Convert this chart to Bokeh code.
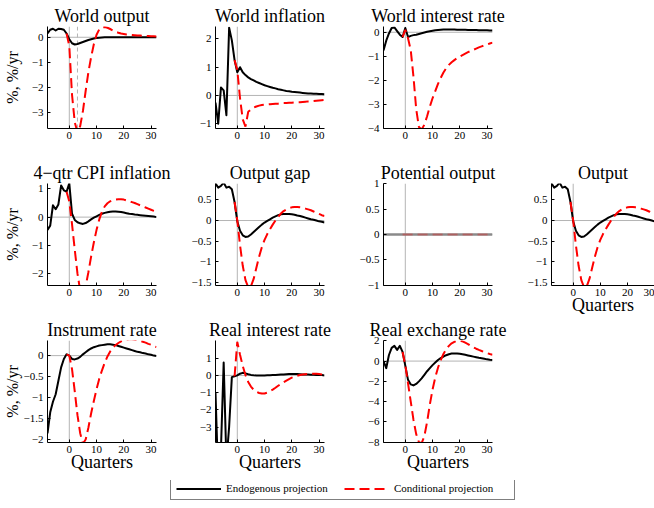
from bokeh.plotting import figure
from bokeh.layouts import row, column, Spacer
from bokeh.models import Range1d, FixedTicker, Span, Legend, LegendItem
from bokeh.embed import file_html
from bokeh.resources import INLINE

# ---------------- data ----------------
quarters_endo = list(range(-8, 33))   # endogenous projection horizon
quarters_cond = list(range(-1, 33))   # conditional projection horizon
x_ticks = [0, 10, 20, 30]

world_output_endo = [0.15, 0.30, 0.34, 0.27, 0.34, 0.33, 0.30, 0.15,
                     -0.08, -0.24, -0.29, -0.27, -0.23, -0.19, -0.15, -0.11, -0.08, -0.05,
                     -0.03, -0.02, -0.01, 0.0, 0.0, 0.0, 0.0, 0.0, 0.0, 0.0,
                     0.0, 0.0, 0.0, 0.0, 0.0, 0.0, 0.0, 0.0, 0.0, 0.0,
                     0.0, 0.0, 0.0]
world_output_cond = [0.15,
                     -0.35, -2.3, -3.4, -3.8, -3.55, -2.95, -2.15, -1.4, -0.8, -0.28,
                     0.1, 0.32, 0.4, 0.41, 0.38, 0.33, 0.27, 0.22, 0.18, 0.15,
                     0.13, 0.11, 0.10, 0.09, 0.08, 0.07, 0.07, 0.06, 0.05, 0.05,
                     0.04, 0.04, 0.03]

world_inflation_endo = [-0.25, -1.0, 0.28, 0.18, -0.7, 2.4, 1.95, 1.25,
                        0.82, 1.0, 0.82, 0.72, 0.64, 0.58, 0.53, 0.48, 0.44, 0.40,
                        0.36, 0.33, 0.30, 0.27, 0.25, 0.22, 0.20, 0.18, 0.16, 0.15,
                        0.13, 0.12, 0.11, 0.10, 0.09, 0.08, 0.07, 0.07, 0.06, 0.06,
                        0.05, 0.05, 0.04]
world_inflation_cond = [1.25,
                        0.9, -0.1, -0.85, -1.1, -0.58, -0.5, -0.43, -0.39, -0.36, -0.34,
                        -0.33, -0.32, -0.31, -0.30, -0.29, -0.29, -0.28, -0.27, -0.27, -0.26,
                        -0.26, -0.25, -0.24, -0.24, -0.23, -0.22, -0.21, -0.21, -0.20, -0.19,
                        -0.18, -0.17, -0.16]

world_rate_endo = [-0.76, -0.35, -0.05, 0.18, 0.2, 0.05, -0.1, -0.2,
                   0.18, -0.2, -0.15, -0.12, -0.1, -0.07, -0.04, -0.01, 0.02, 0.04,
                   0.06, 0.08, 0.09, 0.10, 0.11, 0.11, 0.11, 0.11, 0.11, 0.10,
                   0.10, 0.10, 0.10, 0.09, 0.09, 0.09, 0.09, 0.08, 0.08, 0.08,
                   0.08, 0.07, 0.07]
world_rate_cond = [-0.2,
                   0.1, -0.25, -0.75, -1.85, -3.2, -3.95, -4.05, -3.85, -3.5, -3.1,
                   -2.75, -2.45, -2.15, -1.9, -1.68, -1.5, -1.36, -1.25, -1.16, -1.08,
                   -1.01, -0.95, -0.89, -0.83, -0.78, -0.73, -0.68, -0.63, -0.59, -0.55,
                   -0.51, -0.47, -0.43]

cpi_endo = [-0.45, -0.3, 0.42, 0.28, 0.45, 1.12, 0.95, 0.9,
            1.2, 0.12, -0.1, -0.18, -0.22, -0.24, -0.21, -0.15, -0.08, -0.02,
            0.03, 0.08, 0.12, 0.15, 0.17, 0.19, 0.2, 0.2, 0.19, 0.18,
            0.16, 0.14, 0.12, 0.11, 0.09, 0.08, 0.07, 0.06, 0.05, 0.04,
            0.03, 0.02, 0.0]
cpi_cond = [0.9,
            0.55, -0.25, -1.15, -2.0, -2.6, -2.75, -2.45, -1.95, -1.4, -0.9,
            -0.45, -0.08, 0.2, 0.38, 0.49, 0.56, 0.6, 0.62, 0.63, 0.63,
            0.62, 0.59, 0.56, 0.53, 0.5, 0.46, 0.42, 0.38, 0.34, 0.3,
            0.26, 0.22, 0.18]

gap_endo = [0.9, 0.8, 0.84, 0.92, 0.8, 0.82, 0.76, 0.45,
            -0.02, -0.25, -0.36, -0.4, -0.39, -0.34, -0.28, -0.22, -0.16, -0.1,
            -0.05, -0.01, 0.03, 0.07, 0.1, 0.13, 0.15, 0.16, 0.16, 0.16,
            0.15, 0.14, 0.12, 0.11, 0.09, 0.07, 0.05, 0.03, 0.02, 0.0,
            -0.02, -0.03, -0.05]
gap_cond = [0.45,
            0.0, -0.6, -1.1, -1.45, -1.62, -1.6, -1.42, -1.15, -0.88, -0.65,
            -0.47, -0.33, -0.21, -0.1, 0.0, 0.09, 0.17, 0.23, 0.27, 0.3,
            0.32, 0.33, 0.33, 0.32, 0.31, 0.29, 0.27, 0.25, 0.22, 0.19,
            0.16, 0.13, 0.11]

potential_endo = [0.0, 0.0, 0.0, 0.0, 0.0, 0.0, 0.0, 0.0,
                  0.0, 0.0, 0.0, 0.0, 0.0, 0.0, 0.0, 0.0, 0.0, 0.0,
                  0.0, 0.0, 0.0, 0.0, 0.0, 0.0, 0.0, 0.0, 0.0, 0.0,
                  0.0, 0.0, 0.0, 0.0, 0.0, 0.0, 0.0, 0.0, 0.0, 0.0,
                  0.0, 0.0, 0.0]
potential_cond = [0.0,
                  0.0, 0.0, 0.0, 0.0, 0.0, 0.0, 0.0, 0.0, 0.0, 0.0,
                  0.0, 0.0, 0.0, 0.0, 0.0, 0.0, 0.0, 0.0, 0.0, 0.0,
                  0.0, 0.0, 0.0, 0.0, 0.0, 0.0, 0.0, 0.0, 0.0, 0.0,
                  0.0, 0.0, 0.0]

output_endo = [0.9, 0.8, 0.84, 0.92, 0.8, 0.82, 0.76, 0.45,
               -0.02, -0.25, -0.36, -0.4, -0.39, -0.34, -0.28, -0.22, -0.16, -0.1,
               -0.05, -0.01, 0.03, 0.07, 0.1, 0.13, 0.15, 0.16, 0.16, 0.16,
               0.15, 0.14, 0.12, 0.11, 0.09, 0.07, 0.05, 0.03, 0.02, 0.0,
               -0.02, -0.03, -0.05]
output_cond = [0.45,
               0.0, -0.6, -1.1, -1.45, -1.62, -1.6, -1.42, -1.15, -0.88, -0.65,
               -0.47, -0.33, -0.21, -0.1, 0.0, 0.09, 0.17, 0.23, 0.27, 0.3,
               0.32, 0.33, 0.33, 0.32, 0.31, 0.29, 0.27, 0.25, 0.22, 0.19,
               0.16, 0.13, 0.11]

instrument_endo = [-1.85, -1.35, -1.1, -0.92, -0.6, -0.28, -0.08, 0.03,
                   0.0, -0.08, -0.09, -0.07, -0.03, 0.03, 0.08, 0.13, 0.17, 0.2,
                   0.22, 0.24, 0.25, 0.26, 0.27, 0.27, 0.26, 0.25, 0.23, 0.21,
                   0.19, 0.17, 0.15, 0.13, 0.11, 0.09, 0.08, 0.06, 0.05, 0.03,
                   0.02, 0.0, -0.01]
instrument_cond = [0.03,
                   0.0, -0.32, -0.85, -1.42, -1.85, -2.1, -2.0, -1.72, -1.38, -1.08,
                   -0.8, -0.55, -0.35, -0.17, -0.02, 0.1, 0.19, 0.25, 0.3, 0.34,
                   0.37, 0.38, 0.39, 0.39, 0.38, 0.37, 0.35, 0.33, 0.31, 0.28,
                   0.26, 0.23, 0.2]

real_rate_endo = [-1.0, -6.0, -4.3, 0.75, -5.0, -3.0, -0.1, -0.05,
                  0.0, 0.1, 0.15, 0.12, 0.07, 0.03, 0.01, 0.0, 0.0, 0.0,
                  0.0, 0.01, 0.01, 0.02, 0.03, 0.04, 0.05, 0.06, 0.07, 0.08,
                  0.08, 0.08, 0.08, 0.07, 0.06, 0.05, 0.05, 0.04, 0.04, 0.03,
                  0.03, 0.02, 0.0]
real_rate_cond = [-0.05,
                  1.95, 1.2, 0.55, 0.02, -0.38, -0.65, -0.83, -0.95, -1.02, -1.05,
                  -1.05, -1.0, -0.92, -0.83, -0.72, -0.6, -0.5, -0.4, -0.3, -0.21,
                  -0.13, -0.07, -0.02, 0.02, 0.05, 0.07, 0.09, 0.1, 0.1, 0.1,
                  0.08, 0.05, 0.02]

rer_endo = [0.0, -0.7, 0.6, 1.3, 1.5, 1.1, 1.5, 0.9,
            -0.45, -1.85, -2.3, -2.4, -2.25, -2.0, -1.7, -1.35, -1.0, -0.7,
            -0.4, -0.15, 0.1, 0.3, 0.45, 0.58, 0.68, 0.74, 0.76, 0.75,
            0.72, 0.67, 0.62, 0.56, 0.5, 0.44, 0.38, 0.32, 0.27, 0.22,
            0.17, 0.13, 0.1]
rer_cond = [0.9,
            -0.4, -2.2, -4.0, -5.8, -7.2, -8.0, -8.1, -7.4, -6.0, -4.3,
            -2.8, -1.6, -0.65, 0.1, 0.7, 1.15, 1.5, 1.75, 1.9, 1.98,
            2.0, 1.95, 1.82, 1.68, 1.5, 1.35, 1.22, 1.1, 0.99, 0.88,
            0.78, 0.7, 0.63]

titles = ["World output", "World inflation", "World interest rate",
          "4\u2212qtr CPI inflation", "Output gap", "Potential output", "Output",
          "Instrument rate", "Real interest rate", "Real exchange rate"]
y_label = "%, %/yr"
x_label = "Quarters"
legend_labels = ["Endogenous projection", "Conditional projection"]

# ---------------- helpers ----------------
FONT = "Liberation Serif"
GRAY = "#b4b4b4"


def fmt(v):
    s = "%g" % abs(v)
    return ("\u2212" + s) if v < 0 else s


def panel(title, endo, cond, ylim, yticks, w, h, bl, br, bt, bb,
          ylabel=None, xlabel=None, xlim=(-8, 32), endo_color="black",
          endo_width=2, cond_alpha=1.0, ylabel_standoff=8, vline=None):
    p = figure(width=w, height=h, x_range=Range1d(*xlim), y_range=Range1d(*ylim),
               toolbar_location=None, output_backend="svg",
               min_border_left=bl, min_border_right=br,
               min_border_top=bt, min_border_bottom=bb, title=title)
    p.outline_line_color = None
    p.grid.visible = False
    p.background_fill_color = "white"
    p.border_fill_color = "white"
    p.title.text_font = FONT
    p.title.text_font_size = "18px"
    p.title.text_font_style = "normal"
    p.title.text_color = "black"
    p.title.align = "center"
    p.title.standoff = 2

    p.add_layout(Span(location=0, dimension="width", line_color=GRAY,
                      line_width=1, level="underlay"))
    p.add_layout(Span(location=0, dimension="height", line_color=GRAY,
                      line_width=1, level="underlay"))
    if vline is not None:
        p.add_layout(Span(location=vline, dimension="height", line_color=GRAY,
                          line_width=1, line_dash="4 3", level="underlay"))

    r_endo = p.line(quarters_endo, endo, line_color=endo_color, line_width=endo_width,
                    line_join="round")
    r_cond = p.line(quarters_cond, cond, line_color="red", line_width=2,
                    line_dash="10 5", line_alpha=cond_alpha)

    for ax in (p.xaxis[0], p.yaxis[0]):
        ax.axis_line_color = "black"
        ax.axis_line_width = 1
        ax.major_tick_line_color = "black"
        ax.major_tick_in = 3
        ax.major_tick_out = 0
        ax.minor_tick_line_color = None
        ax.major_label_text_font = FONT
        ax.major_label_text_font_size = "11px"
        ax.major_label_text_color = "black"
        ax.axis_label_text_font = FONT
        ax.axis_label_text_font_style = "normal"
        ax.axis_label_text_color = "black"
    p.xaxis.ticker = FixedTicker(ticks=x_ticks)
    p.xaxis.major_label_overrides = {t: fmt(t) for t in x_ticks}
    p.xaxis.major_label_standoff = 3
    p.yaxis.ticker = FixedTicker(ticks=yticks)
    p.yaxis.major_label_overrides = {t: fmt(t) for t in yticks}
    p.yaxis.major_label_standoff = 4
    if ylabel:
        p.yaxis.axis_label = ylabel
        p.yaxis.axis_label_text_font_size = "16px"
        p.yaxis.axis_label_standoff = ylabel_standoff
    if xlabel:
        p.xaxis.axis_label = xlabel
        p.xaxis.axis_label_text_font_size = "18px"
        p.xaxis.axis_label_standoff = -4
    return p


# column geometry: (width, border_left, border_right)
C1 = (180, 47, 24)
C2 = (170, 35, 26)
C3 = (165, 33, 23)
C4 = (139, 36, 0)
# row geometry: (height, border_top, border_bottom)
R1 = (155, 26, 27)
R2 = (160, 28, 30)
R3 = (165, 25, 38)

f1 = panel(titles[0], world_output_endo, world_output_cond, (-3.65, 0.43), [-3, -2, -1, 0],
           C1[0], R1[0], C1[1], C1[2], R1[1], R1[2], ylabel=y_label, vline=3)
f2 = panel(titles[1], world_inflation_endo, world_inflation_cond, (-1.17, 2.44), [-1, 0, 1, 2],
           C2[0], R1[0], C2[1], C2[2], R1[1], R1[2])
f3 = panel(titles[2], world_rate_endo, world_rate_cond, (-4.01, 0.24), [-4, -3, -2, -1, 0],
           C3[0], R1[0], C3[1], C3[2], R1[1], R1[2])

f4 = panel(titles[3], cpi_endo, cpi_cond, (-2.42, 1.19), [-2, -1, 0, 1],
           C1[0], R2[0], C1[1], C1[2], R2[1], R2[2], ylabel=y_label)
f5 = panel(titles[4], gap_endo, gap_cond, (-1.58, 0.9), [-1.5, -1, -0.5, 0, 0.5],
           C2[0], R2[0], C2[1], C2[2], R2[1], R2[2])
f6 = panel(titles[5], potential_endo, potential_cond, (-1.003, 1.003), [-1, -0.5, 0, 0.5, 1],
           C3[0], R2[0], C3[1], C3[2], R2[1], R2[2], endo_color="#8a8a8a",
           endo_width=2.5, cond_alpha=0.3)
f7 = panel(titles[6], output_endo, output_cond, (-1.58, 0.9), [-1.5, -1, -0.5, 0, 0.5],
           C4[0], 170, C4[1], C4[2], R2[1], 40, xlabel=x_label, xlim=(-8, 30))

f8 = panel(titles[7], instrument_endo, instrument_cond, (-2.07, 0.36), [-2, -1.5, -1, -0.5, 0],
           C1[0], R3[0], C1[1], C1[2], R3[1], R3[2], ylabel=y_label, xlabel=x_label,
           ylabel_standoff=0)
f9 = panel(titles[8], real_rate_endo, real_rate_cond, (-3.9, 2.03), [-3, -2, -1, 0, 1],
           C2[0], R3[0], C2[1], C2[2], R3[1], R3[2], xlabel=x_label)
f10 = panel(titles[9], rer_endo, rer_cond, (-8.03, 2.03), [-8, -6, -4, -2, 0, 2],
            C3[0], R3[0], C3[1], C3[2], R3[1], R3[2], xlabel=x_label)

# legend strip (key lines sit outside the visible range; only their legend keys show)
lg = figure(width=C1[0] + C2[0] + C3[0], height=28, toolbar_location=None,
            output_backend="svg", x_range=Range1d(0, 1), y_range=Range1d(0, 1),
            x_axis_type=None, y_axis_type=None, min_border=0)
lg.outline_line_color = None
lg.grid.visible = False
key_x = [-5, -4]
key_y = [-5, -5]
k_endo = lg.line(x=key_x, y=key_y, line_color="black", line_width=2)
k_cond = lg.line(x=key_x, y=key_y, line_color="red", line_width=2, line_dash="10 5")
legend = Legend(items=[LegendItem(label=legend_labels[0], renderers=[k_endo]),
                       LegendItem(label=legend_labels[1], renderers=[k_cond])],
                orientation="horizontal", location=(170, 8), margin=0, padding=5,
                glyph_width=45, glyph_height=9, label_height=9, label_standoff=5,
                label_width=115, spacing=3,
                border_line_color="black", border_line_width=1,
                background_fill_color="white", background_fill_alpha=1.0,
                label_text_font=FONT, label_text_font_size="11px",
                label_text_color="black")
lg.add_layout(legend)

left = column(row(f1, f2, f3), row(f4, f5, f6), row(f8, f9, f10), lg)
right = column(Spacer(width=C4[0], height=R1[0]), f7)
layout = row(left, right)

open("out.html", "w").write(file_html(layout, INLINE))
